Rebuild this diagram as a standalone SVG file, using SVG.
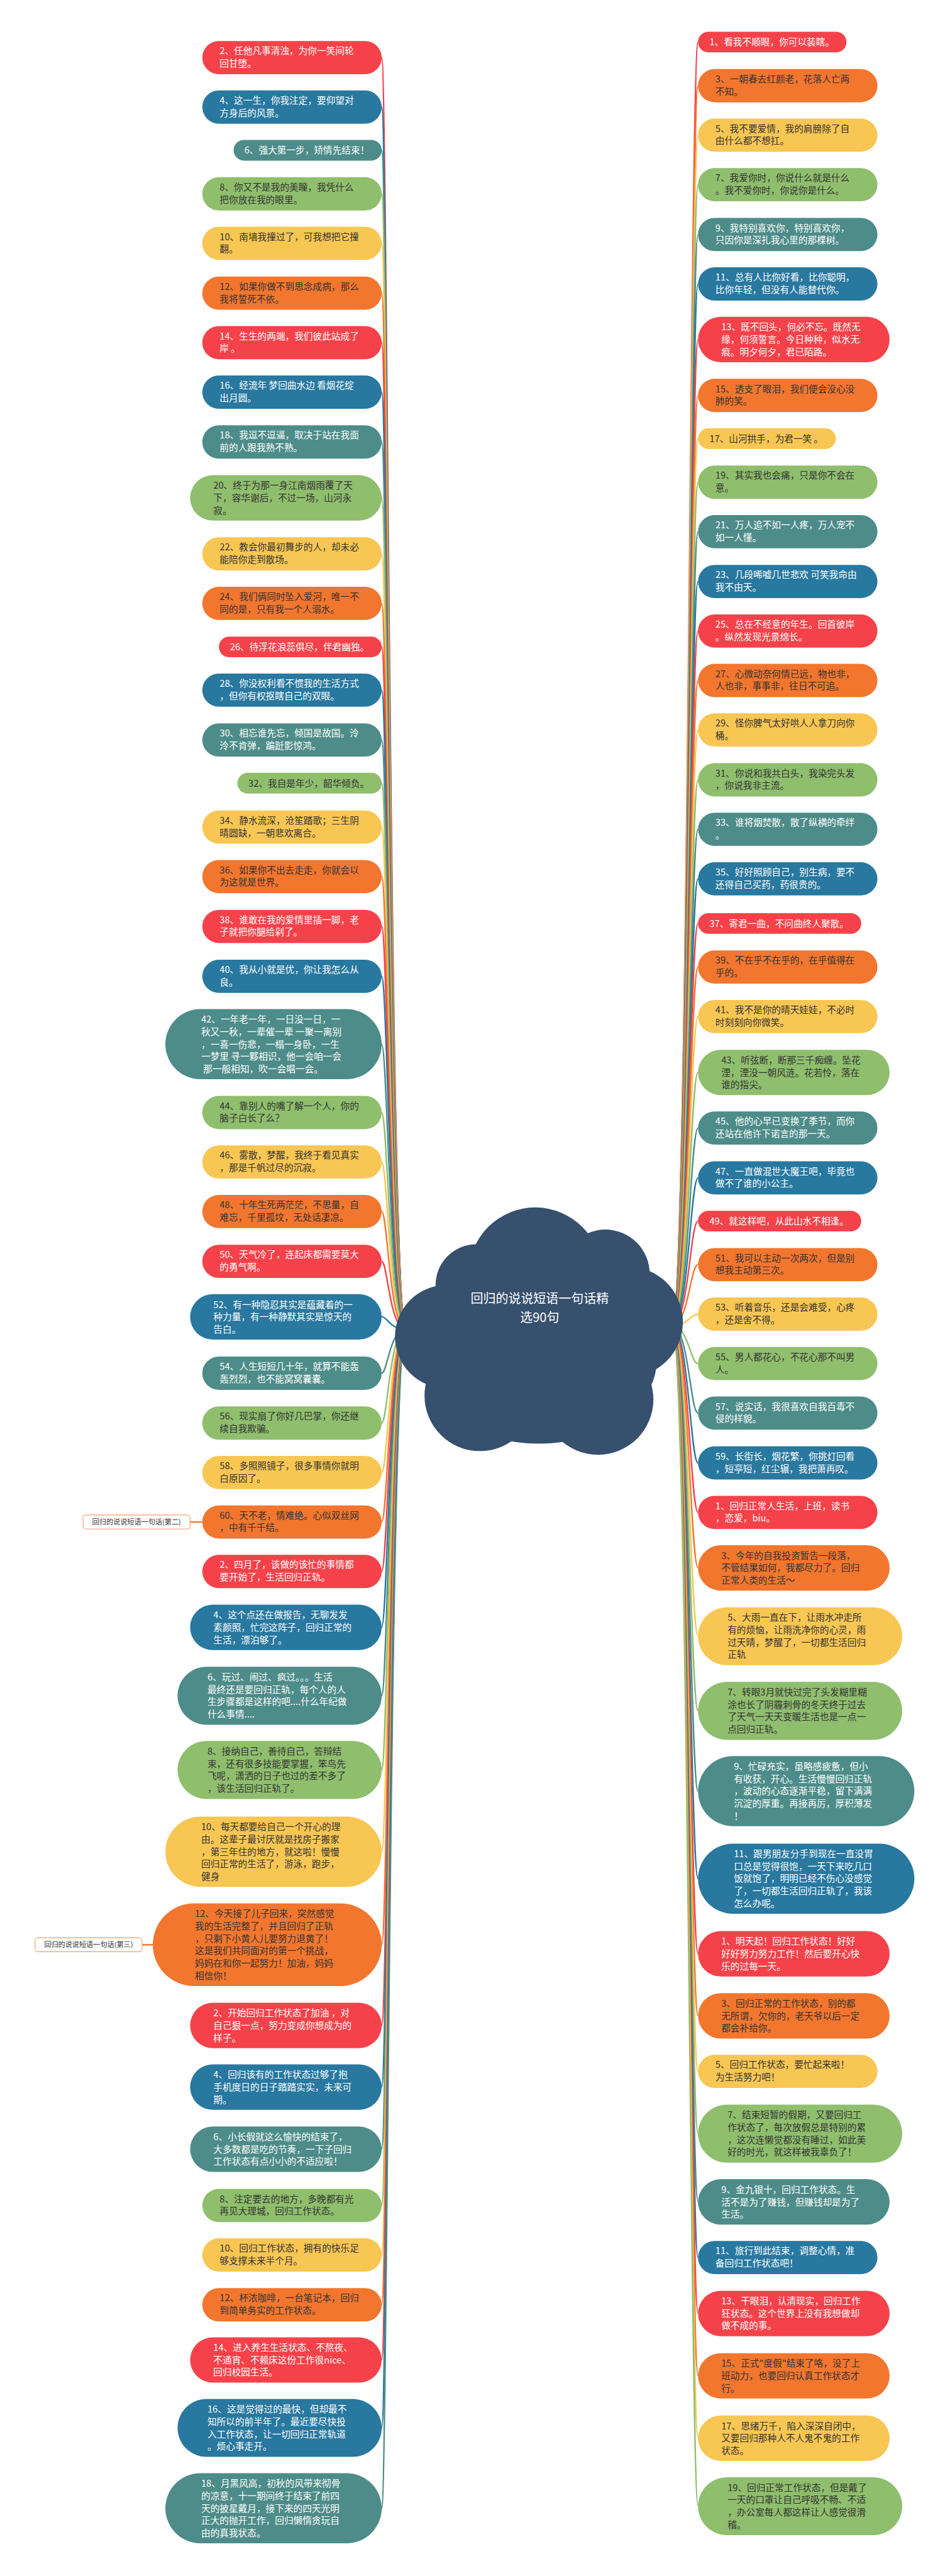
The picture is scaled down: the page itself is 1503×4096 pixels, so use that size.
<svg xmlns="http://www.w3.org/2000/svg" width="1503" height="4096" viewBox="0 0 1503 4096">
<defs>
<style>
.r{fill:#F5424A}.o{fill:#F2762E}.y{fill:#F8C653}.g{fill:#8FBE6D}.t{fill:#4D8C89}.b{fill:#2878A0}
.tx{font-family:"Noto Sans CJK SC","Noto Sans",sans-serif;font-size:25px}
.tw{fill:#FFFFFF}.td{fill:#333333}
.c{fill:none;stroke-width:4}
.cr{stroke:#F5424A}.co{stroke:#F2762E}.cy{stroke:#F8C653}.cg{stroke:#8FBE6D}.ct{stroke:#4D8C89}.cb{stroke:#2878A0}
.lab{fill:#FFFFFF;stroke:#F2A070;stroke-width:2}
.lt{font-family:"Noto Sans CJK SC","Noto Sans",sans-serif;font-size:19px;fill:#333333}
</style>
</defs>
<rect width="1503" height="4096" fill="#FFFFFF"/>
<g transform="scale(0.587109)">
<g id="connectors">
<path class="c cr" d="M1100 3600C1055 3600 1050 156 1034 156"/>
<path class="c cb" d="M1100 3600C1055 3600 1050 290 1034 290"/>
<path class="c ct" d="M1100 3600C1055 3600 1050 407 1034 407"/>
<path class="c cg" d="M1100 3600C1055 3600 1050 525 1034 525"/>
<path class="c cy" d="M1100 3600C1055 3600 1050 659 1034 659"/>
<path class="c co" d="M1100 3600C1055 3600 1050 794 1034 794"/>
<path class="c cr" d="M1100 3600C1055 3600 1050 928 1034 928"/>
<path class="c cb" d="M1100 3600C1055 3600 1050 1062 1034 1062"/>
<path class="c ct" d="M1100 3600C1055 3600 1050 1197 1034 1197"/>
<path class="c cg" d="M1100 3600C1055 3600 1050 1348 1034 1348"/>
<path class="c cy" d="M1100 3600C1055 3600 1050 1500 1034 1500"/>
<path class="c co" d="M1100 3600C1055 3600 1050 1634 1034 1634"/>
<path class="c cr" d="M1100 3600C1055 3600 1050 1752 1034 1752"/>
<path class="c cb" d="M1100 3600C1055 3600 1050 1869 1034 1869"/>
<path class="c ct" d="M1100 3600C1055 3600 1050 2004 1034 2004"/>
<path class="c cg" d="M1100 3600C1055 3600 1050 2121 1034 2121"/>
<path class="c cy" d="M1100 3600C1055 3600 1050 2240 1034 2240"/>
<path class="c co" d="M1100 3600C1055 3600 1050 2374 1034 2374"/>
<path class="c cr" d="M1100 3600C1055 3600 1050 2509 1034 2509"/>
<path class="c cb" d="M1100 3600C1055 3600 1050 2644 1034 2644"/>
<path class="c ct" d="M1100 3600C1055 3600 1050 2828 1034 2828"/>
<path class="c cg" d="M1100 3600C1055 3600 1050 3013 1034 3013"/>
<path class="c cy" d="M1100 3600C1055 3600 1050 3147 1034 3147"/>
<path class="c co" d="M1100 3600C1055 3600 1050 3281 1034 3281"/>
<path class="c cr" d="M1100 3600C1055 3600 1050 3416 1034 3416"/>
<path class="c cb" d="M1100 3600C1055 3600 1050 3566 1034 3566"/>
<path class="c ct" d="M1100 3600C1055 3600 1050 3719 1034 3719"/>
<path class="c cg" d="M1100 3600C1055 3600 1050 3854 1034 3854"/>
<path class="c cy" d="M1100 3600C1055 3600 1050 3988 1034 3988"/>
<path class="c co" d="M1100 3600C1055 3600 1050 4122 1034 4122"/>
<path class="c cr" d="M1100 3600C1055 3600 1050 4256 1034 4256"/>
<path class="c cb" d="M1100 3600C1055 3600 1050 4407 1034 4407"/>
<path class="c ct" d="M1100 3600C1055 3600 1050 4592 1034 4592"/>
<path class="c cg" d="M1100 3600C1055 3600 1050 4793 1034 4793"/>
<path class="c cy" d="M1100 3600C1055 3600 1050 5015 1034 5015"/>
<path class="c co" d="M1100 3600C1055 3600 1050 5267 1034 5267"/>
<path class="c cr" d="M1100 3600C1055 3600 1050 5485 1034 5485"/>
<path class="c cb" d="M1100 3600C1055 3600 1050 5652 1034 5652"/>
<path class="c ct" d="M1100 3600C1055 3600 1050 5820 1034 5820"/>
<path class="c cg" d="M1100 3600C1055 3600 1050 5973 1034 5973"/>
<path class="c cy" d="M1100 3600C1055 3600 1050 6107 1034 6107"/>
<path class="c co" d="M1100 3600C1055 3600 1050 6242 1034 6242"/>
<path class="c cr" d="M1100 3600C1055 3600 1050 6391 1034 6391"/>
<path class="c cb" d="M1100 3600C1055 3600 1050 6575 1034 6575"/>
<path class="c ct" d="M1100 3600C1055 3600 1050 6793 1034 6793"/>
<path class="c cr" d="M1820 3590C1865 3590 1870 114 1891 114"/>
<path class="c co" d="M1820 3590C1865 3590 1870 232 1891 232"/>
<path class="c cy" d="M1820 3590C1865 3590 1870 366 1891 366"/>
<path class="c cg" d="M1820 3590C1865 3590 1870 500 1891 500"/>
<path class="c ct" d="M1820 3590C1865 3590 1870 635 1891 635"/>
<path class="c cb" d="M1820 3590C1865 3590 1870 769 1891 769"/>
<path class="c cr" d="M1820 3590C1865 3590 1870 919 1891 919"/>
<path class="c co" d="M1820 3590C1865 3590 1870 1071 1891 1071"/>
<path class="c cy" d="M1820 3590C1865 3590 1870 1188 1891 1188"/>
<path class="c cg" d="M1820 3590C1865 3590 1870 1306 1891 1306"/>
<path class="c ct" d="M1820 3590C1865 3590 1870 1440 1891 1440"/>
<path class="c cb" d="M1820 3590C1865 3590 1870 1575 1891 1575"/>
<path class="c cr" d="M1820 3590C1865 3590 1870 1709 1891 1709"/>
<path class="c co" d="M1820 3590C1865 3590 1870 1843 1891 1843"/>
<path class="c cy" d="M1820 3590C1865 3590 1870 1977 1891 1977"/>
<path class="c cg" d="M1820 3590C1865 3590 1870 2112 1891 2112"/>
<path class="c ct" d="M1820 3590C1865 3590 1870 2246 1891 2246"/>
<path class="c cb" d="M1820 3590C1865 3590 1870 2380 1891 2380"/>
<path class="c cr" d="M1820 3590C1865 3590 1870 2501 1891 2501"/>
<path class="c co" d="M1820 3590C1865 3590 1870 2619 1891 2619"/>
<path class="c cy" d="M1820 3590C1865 3590 1870 2753 1891 2753"/>
<path class="c cg" d="M1820 3590C1865 3590 1870 2904 1891 2904"/>
<path class="c ct" d="M1820 3590C1865 3590 1870 3055 1891 3055"/>
<path class="c cb" d="M1820 3590C1865 3590 1870 3190 1891 3190"/>
<path class="c cr" d="M1820 3590C1865 3590 1870 3307 1891 3307"/>
<path class="c co" d="M1820 3590C1865 3590 1870 3425 1891 3425"/>
<path class="c cy" d="M1820 3590C1865 3590 1870 3559 1891 3559"/>
<path class="c cg" d="M1820 3590C1865 3590 1870 3693 1891 3693"/>
<path class="c ct" d="M1820 3590C1865 3590 1870 3827 1891 3827"/>
<path class="c cb" d="M1820 3590C1865 3590 1870 3962 1891 3962"/>
<path class="c cr" d="M1820 3590C1865 3590 1870 4096 1891 4096"/>
<path class="c co" d="M1820 3590C1865 3590 1870 4246 1891 4246"/>
<path class="c cy" d="M1820 3590C1865 3590 1870 4431 1891 4431"/>
<path class="c cg" d="M1820 3590C1865 3590 1870 4633 1891 4633"/>
<path class="c ct" d="M1820 3590C1865 3590 1870 4851 1891 4851"/>
<path class="c cb" d="M1820 3590C1865 3590 1870 5088 1891 5088"/>
<path class="c cr" d="M1820 3590C1865 3590 1870 5291 1891 5291"/>
<path class="c co" d="M1820 3590C1865 3590 1870 5459 1891 5459"/>
<path class="c cy" d="M1820 3590C1865 3590 1870 5610 1891 5610"/>
<path class="c cg" d="M1820 3590C1865 3590 1870 5778 1891 5778"/>
<path class="c ct" d="M1820 3590C1865 3590 1870 5963 1891 5963"/>
<path class="c cb" d="M1820 3590C1865 3590 1870 6114 1891 6114"/>
<path class="c cr" d="M1820 3590C1865 3590 1870 6265 1891 6265"/>
<path class="c co" d="M1820 3590C1865 3590 1870 6434 1891 6434"/>
<path class="c cy" d="M1820 3590C1865 3590 1870 6603 1891 6603"/>
<path class="c cg" d="M1820 3590C1865 3590 1870 6787 1891 6787"/>
<path class="c co" d="M515 4122H548"/>
<path class="c co" d="M385 5267H414"/>
</g>
<g id="root">
<g fill="#36506E">
<circle cx="1450" cy="3450" r="180"/>
<circle cx="1210" cy="3620" r="140"/>
<circle cx="1700" cy="3580" r="150"/>
<circle cx="1300" cy="3780" r="150"/>
<circle cx="1620" cy="3790" r="150"/>
<ellipse cx="1460" cy="3680" rx="320" ry="230"/>
<circle cx="1290" cy="3480" r="110"/>
<circle cx="1640" cy="3450" r="120"/>
</g>
<text class="tx tw" x="1462" y="3530" text-anchor="middle" style="font-size:34px">回归的说说短语一句话精</text>
<text class="tx tw" x="1462" y="3580" text-anchor="middle" style="font-size:34px">选90句</text>
</g>
<g id="label2"><rect class="lab" x="225" y="4103" width="290" height="38" rx="8"/><text class="lt" x="370" y="4129" text-anchor="middle">回归的说说短语一句话(第二)</text></g>
<g id="label3"><rect class="lab" x="95" y="5248" width="290" height="38" rx="8"/><text class="lt" x="240" y="5274" text-anchor="middle">回归的说说短语一句话(第三)</text></g>

<g id="nL2"><rect class="r" x="548" y="111" width="486" height="90" rx="45"/><text class="tx tw" y="147"><tspan x="595">2、任他凡事清浊，为你一笑间轮</tspan><tspan x="595" dy="33.5">回甘堕。</tspan></text></g>
<g id="nL4"><rect class="b" x="548" y="245" width="486" height="90" rx="45"/><text class="tx tw" y="281"><tspan x="595">4、这一生，你我注定，要仰望对</tspan><tspan x="595" dy="33.5">方身后的风景。</tspan></text></g>
<g id="nL6"><rect class="t" x="633" y="379" width="401" height="56" rx="28"/><text class="tx tw" y="416"><tspan x="662">6、强大第一步，矫情先结束！</tspan></text></g>
<g id="nL8"><rect class="g" x="548" y="480" width="486" height="90" rx="45"/><text class="tx td" y="516"><tspan x="595">8、你又不是我的美瞳，我凭什么</tspan><tspan x="595" dy="33.5">把你放在我的眼里。</tspan></text></g>
<g id="nL10"><rect class="y" x="548" y="614" width="486" height="90" rx="45"/><text class="tx td" y="650"><tspan x="595">10、南墙我撞过了，可我想把它撞</tspan><tspan x="595" dy="33.5">翻。</tspan></text></g>
<g id="nL12"><rect class="o" x="548" y="749" width="486" height="90" rx="45"/><text class="tx td" y="785"><tspan x="595">12、如果你做不到思念成病，那么</tspan><tspan x="595" dy="33.5">我将誓死不依。</tspan></text></g>
<g id="nL14"><rect class="r" x="548" y="883" width="486" height="90" rx="45"/><text class="tx tw" y="919"><tspan x="595">14、生生的两端，我们彼此站成了</tspan><tspan x="595" dy="33.5">岸 。</tspan></text></g>
<g id="nL16"><rect class="b" x="548" y="1017" width="486" height="90" rx="45"/><text class="tx tw" y="1053"><tspan x="595">16、经流年 梦回曲水边 看烟花绽</tspan><tspan x="595" dy="33.5">出月圆。</tspan></text></g>
<g id="nL18"><rect class="t" x="548" y="1152" width="486" height="90" rx="45"/><text class="tx tw" y="1188"><tspan x="595">18、我逗不逗逼，取决于站在我面</tspan><tspan x="595" dy="33.5">前的人跟我熟不熟。</tspan></text></g>
<g id="nL20"><rect class="g" x="515" y="1287" width="519" height="123" rx="61.5"/><text class="tx td" y="1324"><tspan x="578">20、终于为那一身江南烟雨覆了天</tspan><tspan x="578" dy="33.5">下，容华谢后，不过一场，山河永</tspan><tspan x="578" dy="33.5">寂。</tspan></text></g>
<g id="nL22"><rect class="y" x="548" y="1455" width="486" height="90" rx="45"/><text class="tx td" y="1491"><tspan x="595">22、教会你最初舞步的人，却未必</tspan><tspan x="595" dy="33.5">能陪你走到散场。</tspan></text></g>
<g id="nL24"><rect class="o" x="548" y="1589" width="486" height="90" rx="45"/><text class="tx td" y="1625"><tspan x="595">24、我们俩同时坠入爱河，唯一不</tspan><tspan x="595" dy="33.5">同的是，只有我一个人溺水。</tspan></text></g>
<g id="nL26"><rect class="r" x="593" y="1724" width="441" height="56" rx="28"/><text class="tx tw" y="1761"><tspan x="623">26、待浮花浪蕊俱尽，伴君幽独。</tspan></text></g>
<g id="nL28"><rect class="b" x="548" y="1824" width="486" height="90" rx="45"/><text class="tx tw" y="1860"><tspan x="595">28、你没权利看不惯我的生活方式</tspan><tspan x="595" dy="33.5">，但你有权抠瞎自己的双眼。</tspan></text></g>
<g id="nL30"><rect class="t" x="548" y="1959" width="486" height="90" rx="45"/><text class="tx tw" y="1995"><tspan x="595">30、相忘谁先忘，倾国是故国。泠</tspan><tspan x="595" dy="33.5">泠不肯弹，蹁跹影惊鸿。</tspan></text></g>
<g id="nL32"><rect class="g" x="643" y="2093" width="391" height="56" rx="28"/><text class="tx td" y="2130"><tspan x="673">32、我自是年少，韶华倾负。</tspan></text></g>
<g id="nL34"><rect class="y" x="548" y="2195" width="486" height="90" rx="45"/><text class="tx td" y="2231"><tspan x="595">34、静水流深，沧笙踏歌；三生阴</tspan><tspan x="595" dy="33.5">晴圆缺，一朝悲欢离合。</tspan></text></g>
<g id="nL36"><rect class="o" x="548" y="2329" width="486" height="90" rx="45"/><text class="tx td" y="2365"><tspan x="595">36、如果你不出去走走，你就会以</tspan><tspan x="595" dy="33.5">为这就是世界。</tspan></text></g>
<g id="nL38"><rect class="r" x="548" y="2464" width="486" height="90" rx="45"/><text class="tx tw" y="2500"><tspan x="595">38、谁敢在我的爱情里插一脚，老</tspan><tspan x="595" dy="33.5">子就把你腿给剁了。</tspan></text></g>
<g id="nL40"><rect class="b" x="548" y="2599" width="486" height="90" rx="45"/><text class="tx tw" y="2635"><tspan x="595">40、我从小就是优，你让我怎么从</tspan><tspan x="595" dy="33.5">良。</tspan></text></g>
<g id="nL42"><rect class="t" x="448" y="2733" width="586" height="190" rx="95"/><text class="tx tw" y="2770"><tspan x="545">42、一年老一年，一日没一日，一</tspan><tspan x="545" dy="33.5">秋又一秋，一辈催一辈 一聚一离别</tspan><tspan x="545" dy="33.5">，一喜一伤悲，一榻一身卧，一生</tspan><tspan x="545" dy="33.5">一梦里 寻一夥相识，他一会咱一会</tspan><tspan x="545" dy="33.5"> 那一般相知，吹一会唱一会。</tspan></text></g>
<g id="nL44"><rect class="g" x="548" y="2968" width="486" height="90" rx="45"/><text class="tx td" y="3004"><tspan x="595">44、靠别人的嘴了解一个人，你的</tspan><tspan x="595" dy="33.5">脑子白长了么？</tspan></text></g>
<g id="nL46"><rect class="y" x="548" y="3102" width="486" height="90" rx="45"/><text class="tx td" y="3138"><tspan x="595">46、雾散，梦醒，我终于看见真实</tspan><tspan x="595" dy="33.5">，那是千帆过尽的沉寂。</tspan></text></g>
<g id="nL48"><rect class="o" x="548" y="3236" width="486" height="90" rx="45"/><text class="tx td" y="3272"><tspan x="595">48、十年生死两茫茫，不思量，自</tspan><tspan x="595" dy="33.5">难忘，千里孤坟，无处话凄凉。</tspan></text></g>
<g id="nL50"><rect class="r" x="548" y="3371" width="486" height="90" rx="45"/><text class="tx tw" y="3407"><tspan x="595">50、天气冷了，连起床都需要莫大</tspan><tspan x="595" dy="33.5">的勇气啊。</tspan></text></g>
<g id="nL52"><rect class="b" x="515" y="3505" width="519" height="123" rx="61.5"/><text class="tx tw" y="3542"><tspan x="578">52、有一种隐忍其实是蕴藏着的一</tspan><tspan x="578" dy="33.5">种力量，有一种静默其实是惊天的</tspan><tspan x="578" dy="33.5">告白。</tspan></text></g>
<g id="nL54"><rect class="t" x="548" y="3674" width="486" height="90" rx="45"/><text class="tx tw" y="3710"><tspan x="595">54、人生短短几十年，就算不能轰</tspan><tspan x="595" dy="33.5">轰烈烈，也不能窝窝囊囊。</tspan></text></g>
<g id="nL56"><rect class="g" x="548" y="3809" width="486" height="90" rx="45"/><text class="tx td" y="3845"><tspan x="595">56、现实扇了你好几巴掌，你还继</tspan><tspan x="595" dy="33.5">续自我欺骗。</tspan></text></g>
<g id="nL58"><rect class="y" x="548" y="3943" width="486" height="90" rx="45"/><text class="tx td" y="3979"><tspan x="595">58、多照照镜子，很多事情你就明</tspan><tspan x="595" dy="33.5">白原因了。</tspan></text></g>
<g id="nL60"><rect class="o" x="548" y="4077" width="486" height="90" rx="45"/><text class="tx td" y="4113"><tspan x="595">60、天不老，情难绝。心似双丝网</tspan><tspan x="595" dy="33.5">，中有千千结。</tspan></text></g>
<g id="nL2b"><rect class="r" x="548" y="4211" width="486" height="90" rx="45"/><text class="tx tw" y="4247"><tspan x="595">2、四月了，该做的该忙的事情都</tspan><tspan x="595" dy="33.5">要开始了，生活回归正轨。</tspan></text></g>
<g id="nL4b"><rect class="b" x="515" y="4346" width="519" height="123" rx="61.5"/><text class="tx tw" y="4383"><tspan x="578">4、这个点还在做报告，无聊发发</tspan><tspan x="578" dy="33.5">素颜照，忙完这阵子，回归正常的</tspan><tspan x="578" dy="33.5">生活，漂泊够了。</tspan></text></g>
<g id="nL6b"><rect class="t" x="481" y="4514" width="553" height="157" rx="78.5"/><text class="tx tw" y="4551"><tspan x="562">6、玩过、闹过、疯过。。。生活</tspan><tspan x="562" dy="33.5">最终还是要回归正轨，每个人的人</tspan><tspan x="562" dy="33.5">生步骤都是这样的吧....什么年纪做</tspan><tspan x="562" dy="33.5">什么事情....</tspan></text></g>
<g id="nL8b"><rect class="g" x="481" y="4715" width="553" height="157" rx="78.5"/><text class="tx td" y="4752"><tspan x="562">8、接纳自己，善待自己，答辩结</tspan><tspan x="562" dy="33.5">束，还有很多技能要掌握，笨鸟先</tspan><tspan x="562" dy="33.5">飞呢，潇洒的日子也过的差不多了</tspan><tspan x="562" dy="33.5">，该生活回归正轨了。</tspan></text></g>
<g id="nL10b"><rect class="y" x="448" y="4920" width="586" height="190" rx="95"/><text class="tx td" y="4957"><tspan x="545">10、每天都要给自己一个开心的理</tspan><tspan x="545" dy="33.5">由。这辈子最讨厌就是找房子搬家</tspan><tspan x="545" dy="33.5">，第三年住的地方，就这啦！慢慢</tspan><tspan x="545" dy="33.5">回归正常的生活了，游泳，跑步，</tspan><tspan x="545" dy="33.5">健身</tspan></text></g>
<g id="nL12b"><rect class="o" x="414" y="5155" width="620" height="224" rx="112"/><text class="tx td" y="5192"><tspan x="528">12、今天接了儿子回来，突然感觉</tspan><tspan x="528" dy="33.5">我的生活完整了，并且回归了正轨</tspan><tspan x="528" dy="33.5">，只剩下小黄人儿要努力退黄了！</tspan><tspan x="528" dy="33.5">这是我们共同面对的第一个挑战，</tspan><tspan x="528" dy="33.5">妈妈在和你一起努力！加油，妈妈</tspan><tspan x="528" dy="33.5">相信你！</tspan></text></g>
<g id="nL2c"><rect class="r" x="515" y="5424" width="519" height="123" rx="61.5"/><text class="tx tw" y="5461"><tspan x="578">2、开始回归工作状态了加油 ，对</tspan><tspan x="578" dy="33.5">自己狠一点，努力变成你想成为的</tspan><tspan x="578" dy="33.5">样子。</tspan></text></g>
<g id="nL4c"><rect class="b" x="515" y="5591" width="519" height="123" rx="61.5"/><text class="tx tw" y="5628"><tspan x="578">4、回归该有的工作状态过够了抱</tspan><tspan x="578" dy="33.5">手机度日的日子踏踏实实，未来可</tspan><tspan x="578" dy="33.5">期。</tspan></text></g>
<g id="nL6c"><rect class="t" x="515" y="5759" width="519" height="123" rx="61.5"/><text class="tx tw" y="5796"><tspan x="578">6、小长假就这么愉快的结束了，</tspan><tspan x="578" dy="33.5">大多数都是吃的节奏，一下子回归</tspan><tspan x="578" dy="33.5">工作状态有点小小的不适应啦！</tspan></text></g>
<g id="nL8c"><rect class="g" x="548" y="5928" width="486" height="90" rx="45"/><text class="tx td" y="5964"><tspan x="595">8、注定要去的地方，多晚都有光</tspan><tspan x="595" dy="33.5">再见大理城，回归工作状态。</tspan></text></g>
<g id="nL10c"><rect class="y" x="548" y="6062" width="486" height="90" rx="45"/><text class="tx td" y="6098"><tspan x="595">10、回归工作状态，拥有的快乐足</tspan><tspan x="595" dy="33.5">够支撑未来半个月。</tspan></text></g>
<g id="nL12c"><rect class="o" x="548" y="6197" width="486" height="90" rx="45"/><text class="tx td" y="6233"><tspan x="595">12、杯浓咖啡，一台笔记本，回归</tspan><tspan x="595" dy="33.5">到简单务实的工作状态。</tspan></text></g>
<g id="nL14c"><rect class="r" x="515" y="6330" width="519" height="123" rx="61.5"/><text class="tx tw" y="6367"><tspan x="578">14、进入养生生活状态、不熬夜、</tspan><tspan x="578" dy="33.5">不通宵、不赖床这份工作很nice、</tspan><tspan x="578" dy="33.5">回归校园生活。</tspan></text></g>
<g id="nL16c"><rect class="b" x="481" y="6497" width="553" height="157" rx="78.5"/><text class="tx tw" y="6534"><tspan x="562">16、这是觉得过的最快，但却最不</tspan><tspan x="562" dy="33.5">知所以的前半年了。最近要尽快投</tspan><tspan x="562" dy="33.5">入工作状态，让一切回归正常轨道</tspan><tspan x="562" dy="33.5">。烦心事走开。</tspan></text></g>
<g id="nL18c"><rect class="t" x="448" y="6698" width="586" height="190" rx="95"/><text class="tx tw" y="6735"><tspan x="545">18、月黑风高，初秋的风带来彻骨</tspan><tspan x="545" dy="33.5">的凉意，十一期间终于结束了前四</tspan><tspan x="545" dy="33.5">天的披星戴月，接下来的四天光明</tspan><tspan x="545" dy="33.5">正大的抛开工作，回归懒惰贪玩自</tspan><tspan x="545" dy="33.5">由的真我状态。</tspan></text></g>

<g id="nR1"><rect class="r" x="1891" y="86" width="402" height="56" rx="28"/><text class="tx tw" y="123"><tspan x="1922">1、看我不顺眼，你可以装瞎。</tspan></text></g>
<g id="nR3"><rect class="o" x="1891" y="187" width="486" height="90" rx="45"/><text class="tx td" y="223"><tspan x="1938">3、一朝春去红颜老，花落人亡两</tspan><tspan x="1938" dy="33.5">不知。</tspan></text></g>
<g id="nR5"><rect class="y" x="1891" y="321" width="486" height="90" rx="45"/><text class="tx td" y="357"><tspan x="1938">5、我不要爱情，我的肩膀除了自</tspan><tspan x="1938" dy="33.5">由什么都不想扛。</tspan></text></g>
<g id="nR7"><rect class="g" x="1891" y="455" width="486" height="90" rx="45"/><text class="tx td" y="491"><tspan x="1938">7、我爱你时，你说什么就是什么</tspan><tspan x="1938" dy="33.5">。我不爱你时，你说你是什么。</tspan></text></g>
<g id="nR9"><rect class="t" x="1891" y="590" width="486" height="90" rx="45"/><text class="tx tw" y="626"><tspan x="1938">9、我特别喜欢你，特别喜欢你，</tspan><tspan x="1938" dy="33.5">只因你是深扎我心里的那棵树。</tspan></text></g>
<g id="nR11"><rect class="b" x="1891" y="724" width="486" height="90" rx="45"/><text class="tx tw" y="760"><tspan x="1938">11、总有人比你好看，比你聪明，</tspan><tspan x="1938" dy="33.5">比你年轻，但没有人能替代你。</tspan></text></g>
<g id="nR13"><rect class="r" x="1891" y="858" width="519" height="123" rx="61.5"/><text class="tx tw" y="895"><tspan x="1954">13、既不回头，何必不忘。既然无</tspan><tspan x="1954" dy="33.5">缘，何须誓言。今日种种，似水无</tspan><tspan x="1954" dy="33.5">痕。明夕何夕，君已陌路。</tspan></text></g>
<g id="nR15"><rect class="o" x="1891" y="1026" width="486" height="90" rx="45"/><text class="tx td" y="1062"><tspan x="1938">15、透支了眼泪，我们便会没心没</tspan><tspan x="1938" dy="33.5">肺的笑。</tspan></text></g>
<g id="nR17"><rect class="y" x="1891" y="1160" width="373" height="56" rx="28"/><text class="tx td" y="1197"><tspan x="1922">17、山河拱手，为君一笑 。</tspan></text></g>
<g id="nR19"><rect class="g" x="1891" y="1261" width="486" height="90" rx="45"/><text class="tx td" y="1297"><tspan x="1938">19、其实我也会痛，只是你不会在</tspan><tspan x="1938" dy="33.5">意。</tspan></text></g>
<g id="nR21"><rect class="t" x="1891" y="1395" width="486" height="90" rx="45"/><text class="tx tw" y="1431"><tspan x="1938">21、万人追不如一人疼，万人宠不</tspan><tspan x="1938" dy="33.5">如一人懂。</tspan></text></g>
<g id="nR23"><rect class="b" x="1891" y="1530" width="486" height="90" rx="45"/><text class="tx tw" y="1566"><tspan x="1938">23、几段唏嘘几世悲欢 可笑我命由</tspan><tspan x="1938" dy="33.5">我不由天。</tspan></text></g>
<g id="nR25"><rect class="r" x="1891" y="1664" width="486" height="90" rx="45"/><text class="tx tw" y="1700"><tspan x="1938">25、总在不经意的年生。回首彼岸</tspan><tspan x="1938" dy="33.5">。纵然发现光景绵长。</tspan></text></g>
<g id="nR27"><rect class="o" x="1891" y="1798" width="486" height="90" rx="45"/><text class="tx td" y="1834"><tspan x="1938">27、心微动奈何情已远，物也非，</tspan><tspan x="1938" dy="33.5">人也非，事事非，往日不可追。</tspan></text></g>
<g id="nR29"><rect class="y" x="1891" y="1932" width="486" height="90" rx="45"/><text class="tx td" y="1968"><tspan x="1938">29、怪你脾气太好哄人人拿刀向你</tspan><tspan x="1938" dy="33.5">桶。</tspan></text></g>
<g id="nR31"><rect class="g" x="1891" y="2067" width="486" height="90" rx="45"/><text class="tx td" y="2103"><tspan x="1938">31、你说和我共白头，我染完头发</tspan><tspan x="1938" dy="33.5">，你说我非主流。</tspan></text></g>
<g id="nR33"><rect class="t" x="1891" y="2201" width="486" height="90" rx="45"/><text class="tx tw" y="2237"><tspan x="1938">33、谁将烟焚散，散了纵横的牵绊</tspan><tspan x="1938" dy="33.5">。</tspan></text></g>
<g id="nR35"><rect class="b" x="1891" y="2335" width="486" height="90" rx="45"/><text class="tx tw" y="2371"><tspan x="1938">35、好好照顾自己，别生病，要不</tspan><tspan x="1938" dy="33.5">还得自己买药，药很贵的。</tspan></text></g>
<g id="nR37"><rect class="r" x="1891" y="2473" width="442" height="56" rx="28"/><text class="tx tw" y="2510"><tspan x="1922">37、寄君一曲，不问曲终人聚散。</tspan></text></g>
<g id="nR39"><rect class="o" x="1891" y="2574" width="486" height="90" rx="45"/><text class="tx td" y="2610"><tspan x="1938">39、不在乎不在乎的，在乎值得在</tspan><tspan x="1938" dy="33.5">乎的。</tspan></text></g>
<g id="nR41"><rect class="y" x="1891" y="2708" width="486" height="90" rx="45"/><text class="tx td" y="2744"><tspan x="1938">41、我不是你的晴天娃娃，不必时</tspan><tspan x="1938" dy="33.5">时刻刻向你微笑。</tspan></text></g>
<g id="nR43"><rect class="g" x="1891" y="2843" width="519" height="123" rx="61.5"/><text class="tx td" y="2880"><tspan x="1954">43、听弦断，断那三千痴缠。坠花</tspan><tspan x="1954" dy="33.5">湮，湮没一朝风涟。花若怜，落在</tspan><tspan x="1954" dy="33.5">谁的指尖。</tspan></text></g>
<g id="nR45"><rect class="t" x="1891" y="3010" width="486" height="90" rx="45"/><text class="tx tw" y="3046"><tspan x="1938">45、他的心早已变换了季节，而你</tspan><tspan x="1938" dy="33.5">还站在他许下诺言的那一天。</tspan></text></g>
<g id="nR47"><rect class="b" x="1891" y="3145" width="486" height="90" rx="45"/><text class="tx tw" y="3181"><tspan x="1938">47、一直做混世大魔王吧，毕竟也</tspan><tspan x="1938" dy="33.5">做不了谁的小公主。</tspan></text></g>
<g id="nR49"><rect class="r" x="1891" y="3279" width="442" height="56" rx="28"/><text class="tx tw" y="3316"><tspan x="1922">49、就这样吧，从此山水不相逢。</tspan></text></g>
<g id="nR51"><rect class="o" x="1891" y="3380" width="486" height="90" rx="45"/><text class="tx td" y="3416"><tspan x="1938">51、我可以主动一次两次，但是别</tspan><tspan x="1938" dy="33.5">想我主动第三次。</tspan></text></g>
<g id="nR53"><rect class="y" x="1891" y="3514" width="486" height="90" rx="45"/><text class="tx td" y="3550"><tspan x="1938">53、听着音乐，还是会难受，心疼</tspan><tspan x="1938" dy="33.5">，还是舍不得。</tspan></text></g>
<g id="nR55"><rect class="g" x="1891" y="3648" width="486" height="90" rx="45"/><text class="tx td" y="3684"><tspan x="1938">55、男人都花心，不花心那不叫男</tspan><tspan x="1938" dy="33.5">人。</tspan></text></g>
<g id="nR57"><rect class="t" x="1891" y="3782" width="486" height="90" rx="45"/><text class="tx tw" y="3818"><tspan x="1938">57、说实话，我很喜欢自我百毒不</tspan><tspan x="1938" dy="33.5">侵的样貌。</tspan></text></g>
<g id="nR59"><rect class="b" x="1891" y="3917" width="486" height="90" rx="45"/><text class="tx tw" y="3953"><tspan x="1938">59、长街长，烟花繁，你挑灯回看</tspan><tspan x="1938" dy="33.5">，短亭短，红尘辗，我把萧再叹。</tspan></text></g>
<g id="nR1b"><rect class="r" x="1891" y="4051" width="486" height="90" rx="45"/><text class="tx tw" y="4087"><tspan x="1938">1、回归正常人生活，上班，读书</tspan><tspan x="1938" dy="33.5">，恋爱，biu。</tspan></text></g>
<g id="nR3b"><rect class="o" x="1891" y="4185" width="519" height="123" rx="61.5"/><text class="tx td" y="4222"><tspan x="1954">3、今年的自我投资暂告一段落，</tspan><tspan x="1954" dy="33.5">不管结果如何，我都尽力了。回归</tspan><tspan x="1954" dy="33.5">正常人类的生活～</tspan></text></g>
<g id="nR5b"><rect class="y" x="1891" y="4353" width="553" height="157" rx="78.5"/><text class="tx td" y="4390"><tspan x="1971">5、大雨一直在下，让雨水冲走所</tspan><tspan x="1971" dy="33.5">有的烦恼，让雨洗净你的心灵，雨</tspan><tspan x="1971" dy="33.5">过天晴，梦醒了，一切都生活回归</tspan><tspan x="1971" dy="33.5">正轨</tspan></text></g>
<g id="nR7b"><rect class="g" x="1891" y="4555" width="553" height="157" rx="78.5"/><text class="tx td" y="4592"><tspan x="1971">7、转眼3月就快过完了头发糊里糊</tspan><tspan x="1971" dy="33.5">涂也长了阴霾刺骨的冬天终于过去</tspan><tspan x="1971" dy="33.5">了天气一天天变暖生活也是一点一</tspan><tspan x="1971" dy="33.5">点回归正轨。</tspan></text></g>
<g id="nR9b"><rect class="t" x="1891" y="4756" width="586" height="190" rx="95"/><text class="tx tw" y="4793"><tspan x="1988">9、忙碌充实，虽略感疲惫，但小</tspan><tspan x="1988" dy="33.5">有收获，开心。生活慢慢回归正轨</tspan><tspan x="1988" dy="33.5">，波动的心态逐渐平稳，留下满满</tspan><tspan x="1988" dy="33.5">沉淀的厚重。再接再厉，厚积薄发</tspan><tspan x="1988" dy="33.5">！</tspan></text></g>
<g id="nR11b"><rect class="b" x="1891" y="4993" width="586" height="190" rx="95"/><text class="tx tw" y="5030"><tspan x="1988">11、跟男朋友分手到现在一直没胃</tspan><tspan x="1988" dy="33.5">口总是觉得很饱，一天下来吃几口</tspan><tspan x="1988" dy="33.5">饭就饱了，明明已经不伤心没感觉</tspan><tspan x="1988" dy="33.5">了，一切都生活回归正轨了，我该</tspan><tspan x="1988" dy="33.5">怎么办呢。</tspan></text></g>
<g id="nR1c"><rect class="r" x="1891" y="5230" width="519" height="123" rx="61.5"/><text class="tx tw" y="5267"><tspan x="1954">1、明天起！回归工作状态！好好</tspan><tspan x="1954" dy="33.5">好好努力努力工作！然后要开心快</tspan><tspan x="1954" dy="33.5">乐的过每一天。</tspan></text></g>
<g id="nR3c"><rect class="o" x="1891" y="5398" width="519" height="123" rx="61.5"/><text class="tx td" y="5435"><tspan x="1954">3、回归正常的工作状态，别的都</tspan><tspan x="1954" dy="33.5">无所谓，欠你的，老天爷以后一定</tspan><tspan x="1954" dy="33.5">都会补给你。</tspan></text></g>
<g id="nR5c"><rect class="y" x="1891" y="5565" width="486" height="90" rx="45"/><text class="tx td" y="5601"><tspan x="1938">5、回归工作状态，要忙起来啦！</tspan><tspan x="1938" dy="33.5">为生活努力吧！</tspan></text></g>
<g id="nR7c"><rect class="g" x="1891" y="5700" width="553" height="157" rx="78.5"/><text class="tx td" y="5737"><tspan x="1971">7、结束短暂的假期，又要回归工</tspan><tspan x="1971" dy="33.5">作状态了，每次放假总是特别的累</tspan><tspan x="1971" dy="33.5">，这次连懒觉都没有睡过，如此美</tspan><tspan x="1971" dy="33.5">好的时光，就这样被我辜负了！</tspan></text></g>
<g id="nR9c"><rect class="t" x="1891" y="5902" width="519" height="123" rx="61.5"/><text class="tx tw" y="5939"><tspan x="1954">9、金九银十，回归工作状态。生</tspan><tspan x="1954" dy="33.5">活不是为了赚钱，但赚钱却是为了</tspan><tspan x="1954" dy="33.5">生活。</tspan></text></g>
<g id="nR11c"><rect class="b" x="1891" y="6069" width="486" height="90" rx="45"/><text class="tx tw" y="6105"><tspan x="1938">11、旅行到此结束，调整心情，准</tspan><tspan x="1938" dy="33.5">备回归工作状态吧！</tspan></text></g>
<g id="nR13c"><rect class="r" x="1891" y="6204" width="519" height="123" rx="61.5"/><text class="tx tw" y="6241"><tspan x="1954">13、干眼泪，认清现实，回归工作</tspan><tspan x="1954" dy="33.5">狂状态。这个世界上没有我想做却</tspan><tspan x="1954" dy="33.5">做不成的事。</tspan></text></g>
<g id="nR15c"><rect class="o" x="1891" y="6373" width="519" height="123" rx="61.5"/><text class="tx td" y="6410"><tspan x="1954">15、正式"度假"结束了咯，没了上</tspan><tspan x="1954" dy="33.5">班动力，也要回归认真工作状态才</tspan><tspan x="1954" dy="33.5">行。</tspan></text></g>
<g id="nR17c"><rect class="y" x="1891" y="6542" width="519" height="123" rx="61.5"/><text class="tx td" y="6579"><tspan x="1954">17、思绪万千，陷入深深自闭中，</tspan><tspan x="1954" dy="33.5">又要回归那种人不人鬼不鬼的工作</tspan><tspan x="1954" dy="33.5">状态。</tspan></text></g>
<g id="nR19c"><rect class="g" x="1891" y="6709" width="553" height="157" rx="78.5"/><text class="tx td" y="6746"><tspan x="1971">19、回归正常工作状态，但是戴了</tspan><tspan x="1971" dy="33.5">一天的口罩让自己呼吸不畅、不适</tspan><tspan x="1971" dy="33.5">，办公室每人都这样让人感觉很滑</tspan><tspan x="1971" dy="33.5">稽。</tspan></text></g>
</g>
</svg>
